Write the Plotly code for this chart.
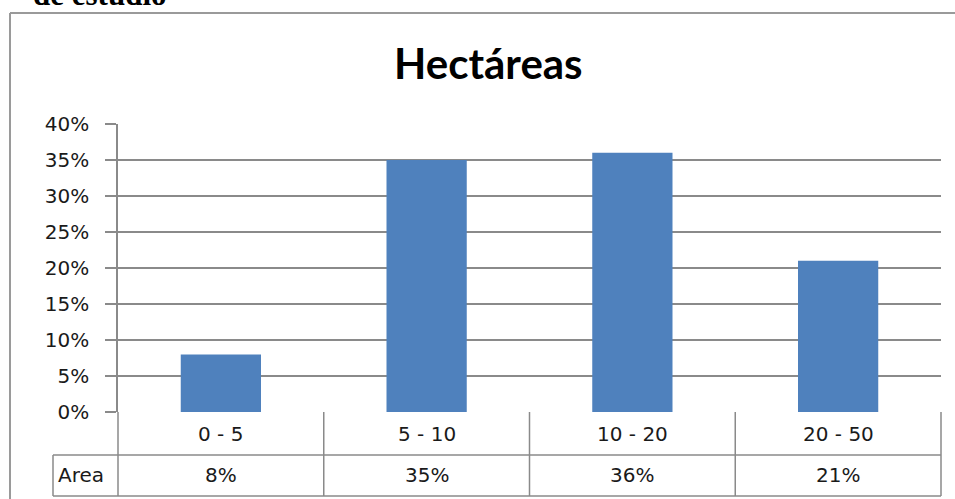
import plotly.graph_objects as go

categories = ["0 - 5", "5 - 10", "10 - 20", "20 - 50"]
values = [0.08, 0.35, 0.36, 0.21]
value_labels = ["8%", "35%", "36%", "21%"]
tick_vals = [0, 0.05, 0.10, 0.15, 0.20, 0.25, 0.30, 0.35, 0.40]
tick_text = ["0%", "5%", "10%", "15%", "20%", "25%", "30%", "35%", "40%"]
row_label = "Area"
title_text = "Hectáreas"
above_text = "de estudio"

W, H = 955, 499
L, R, T, B = 118, 941, 124, 412
PW, PH = R - L, B - T

def px(x):
    return (x - L) / PW

def py(y):
    return (B - y) / PH

GRID = "#8a8a8a"
FONT = "DejaVu Sans"
TXT = "#1a1a1a"

fig = go.Figure()
fig.add_trace(go.Bar(x=categories, y=values, marker=dict(color="#4F81BD", line=dict(width=0)),
                     width=0.39, hoverinfo="skip"))

shapes = []
def line(x0, y0, x1, y1, color=GRID, w=1.5):
    shapes.append(dict(type="line", xref="paper", yref="paper", x0=px(x0), y0=py(y0),
                       x1=px(x1), y1=py(y1), line=dict(color=color, width=w)))

# outer chart border
line(10, 13, 960, 13, "#9a9a9a", 2)
line(10, 13, 10, 505, "#9a9a9a", 2)
# table
col_edges = [L + PW * k / len(categories) for k in range(len(categories) + 1)]
for xe in col_edges:
    line(xe, B, xe, 496)
line(53, 455, 53, 496)
line(53, 455, R, 455)
line(53, 496, R, 496)

annotations = []
for c, v in zip(categories, value_labels):
    annotations.append(dict(x=c, xref="x", y=py(434), yref="paper", text=c, showarrow=False,
                            font=dict(family=FONT, size=20, color=TXT), xanchor="center", yanchor="middle"))
    annotations.append(dict(x=c, xref="x", y=py(475), yref="paper", text=v, showarrow=False,
                            font=dict(family=FONT, size=20, color=TXT), xanchor="center", yanchor="middle"))
annotations.append(dict(x=px(56), xref="paper", y=py(475), yref="paper", text=row_label, showarrow=False,
                        font=dict(family=FONT, size=20, color=TXT), xanchor="left", yanchor="middle"))
annotations.append(dict(x=px(488), xref="paper", y=py(63), yref="paper", text="<b>" + title_text + "</b>",
                        showarrow=False, font=dict(family="Lato", size=42, color="#000000"),
                        xanchor="center", yanchor="middle"))
annotations.append(dict(x=px(31), xref="paper", y=py(-5), yref="paper", text="<b>" + above_text + "</b>",
                        showarrow=False, font=dict(family="Liberation Serif", size=31, color="#000000"),
                        xanchor="left", yanchor="middle"))

fig.update_layout(
    width=W, height=H,
    margin=dict(l=L, r=W - R, t=T, b=H - B, pad=0),
    paper_bgcolor="white", plot_bgcolor="white",
    showlegend=False,
    shapes=shapes, annotations=annotations,
    xaxis=dict(range=[-0.5, 3.5], showticklabels=False, showgrid=False, zeroline=False,
               showline=False, ticks="", fixedrange=True),
    yaxis=dict(range=[0, 0.4], tickvals=tick_vals, ticktext=tick_text, showgrid=True,
               gridcolor=GRID, gridwidth=1.5, zeroline=False, showline=True, linecolor=GRID,
               linewidth=1.5, ticks="outside", ticklen=11, tickcolor=GRID, tickwidth=1.5,
               ticklabelstandoff=12, fixedrange=True,
               tickfont=dict(family=FONT, size=20, color=TXT)),
    bargap=0.6,
)

fig.write_html("out.html", config={"displayModeBar": False},
               post_script="document.body.style.margin='0';document.body.style.padding='0';")
